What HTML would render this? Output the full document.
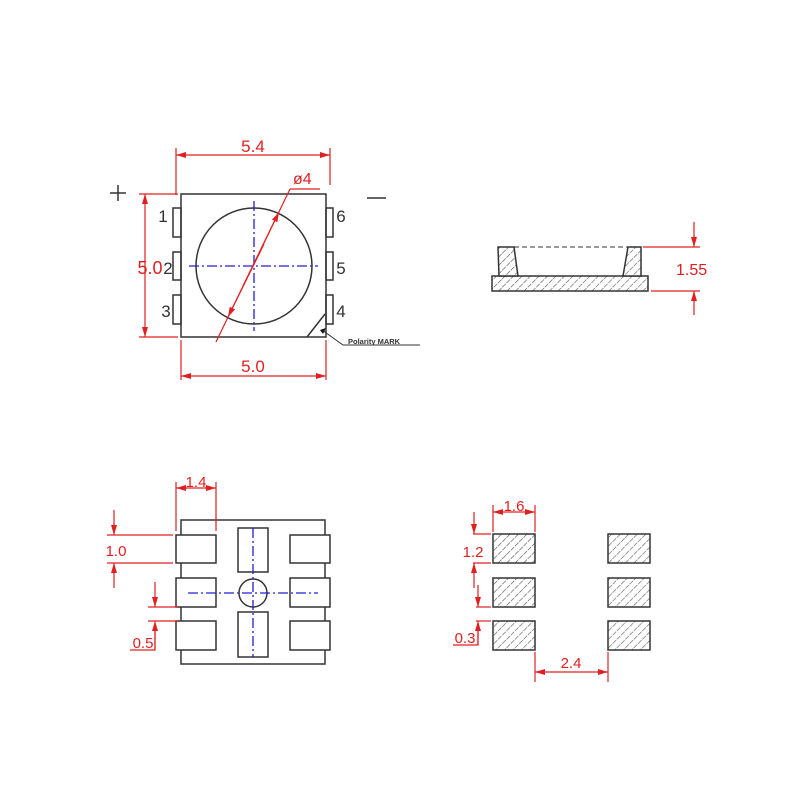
<!DOCTYPE html>
<html><head><meta charset="utf-8"><style>
html,body{margin:0;padding:0;background:#fff;}
svg{display:block}
text{font-family:"Liberation Sans",sans-serif;}
</style></head><body>
<svg width="800" height="800" viewBox="0 0 800 800" xmlns="http://www.w3.org/2000/svg">
<defs>
<pattern id="h" width="6" height="6" patternUnits="userSpaceOnUse" patternTransform="rotate(45)">
<rect width="6" height="6" fill="#fff"/><line x1="0" y1="0" x2="0" y2="6" stroke="#555" stroke-width="1.2" stroke-dasharray="4 1"/>
</pattern>
<marker id="a" markerWidth="10" markerHeight="6" refX="10" refY="3" orient="auto" markerUnits="userSpaceOnUse"><path d="M0,0 L10,3 L0,6 z" fill="#e02020"/></marker>
</defs>
<g fill="none" stroke="#333" stroke-width="1.5">
<rect x="181" y="194" width="145" height="143"/>
<rect x="173" y="208" width="8" height="29"/><rect x="173" y="252" width="8" height="28"/><rect x="173" y="295" width="8" height="29"/>
<rect x="326" y="208" width="7" height="29"/><rect x="326" y="252" width="7" height="28"/><rect x="326" y="295" width="7" height="29"/>
<circle cx="254" cy="266" r="58"/>
<line x1="307" y1="337" x2="325" y2="314"/>
<polyline points="322,330 343,345 420,345" stroke-width="1"/>
<rect x="181" y="520" width="144" height="144"/>
<rect x="176" y="535" width="40" height="28" fill="#fff"/><rect x="176" y="578" width="40" height="29" fill="#fff"/><rect x="176" y="621" width="40" height="29" fill="#fff"/>
<rect x="290" y="535" width="40" height="28" fill="#fff"/><rect x="290" y="578" width="40" height="29" fill="#fff"/><rect x="290" y="621" width="40" height="29" fill="#fff"/>
<rect x="238" y="528" width="30" height="44"/><rect x="238" y="612" width="30" height="45"/>
<circle cx="253" cy="593" r="14"/>
</g>
<path d="M320,330 l6,-2 l-3,6z" fill="#111"/>
<g stroke="#333" stroke-width="1.5">
<rect x="492" y="276" width="156" height="15" fill="url(#h)"/>
<polygon points="498,247 514,247 518,276 499,276" fill="url(#h)"/>
<polygon points="628,247 641,247 641,276 623,276" fill="url(#h)"/>
<line x1="514" y1="247" x2="628" y2="247" stroke-dasharray="5 3" stroke-width="1"/>
<rect x="493" y="534" width="42" height="29" fill="url(#h)"/><rect x="493" y="578" width="42" height="29" fill="url(#h)"/><rect x="493" y="621" width="42" height="29" fill="url(#h)"/>
<rect x="608" y="534" width="42" height="29" fill="url(#h)"/><rect x="608" y="578" width="42" height="29" fill="url(#h)"/><rect x="608" y="621" width="42" height="29" fill="url(#h)"/>
</g>
<g stroke="#2020d0" stroke-width="1.3" stroke-dasharray="10 3 2 3">
<line x1="189" y1="266" x2="318" y2="266"/><line x1="254" y1="201" x2="254" y2="331"/>
<line x1="188" y1="593" x2="318" y2="593"/><line x1="253" y1="528" x2="253" y2="657"/>
</g>
<g stroke="#e02020" stroke-width="1.2" fill="none">
<line x1="176" y1="148" x2="176" y2="195"/><line x1="330" y1="148" x2="330" y2="185"/>
<line x1="186" y1="155" x2="176" y2="155" marker-end="url(#a)"/><line x1="186" y1="155" x2="330" y2="155" marker-end="url(#a)"/>
<line x1="139" y1="194" x2="178" y2="194"/><line x1="139" y1="337" x2="178" y2="337"/>
<line x1="145" y1="260" x2="145" y2="194" marker-end="url(#a)"/><line x1="145" y1="260" x2="145" y2="337" marker-end="url(#a)"/>
<line x1="181" y1="340" x2="181" y2="380"/><line x1="326" y1="340" x2="326" y2="380"/>
<line x1="250" y1="376" x2="181" y2="376" marker-end="url(#a)"/><line x1="250" y1="376" x2="326" y2="376" marker-end="url(#a)"/>
<line x1="216" y1="342" x2="290" y2="189"/><line x1="290" y1="189" x2="320" y2="189"/>
<path d="M243,286 L279,212" marker-end="url(#a)"/><path d="M264,244 L228,317" marker-end="url(#a)"/>
<line x1="643" y1="247" x2="700" y2="247"/><line x1="651" y1="291" x2="700" y2="291"/>
<line x1="694" y1="222" x2="694" y2="247" marker-end="url(#a)"/><line x1="694" y1="315" x2="694" y2="291" marker-end="url(#a)"/>
<line x1="176" y1="482" x2="176" y2="531"/><line x1="216" y1="482" x2="216" y2="531"/>
<line x1="196" y1="488" x2="176" y2="488" marker-end="url(#a)"/><line x1="196" y1="488" x2="216" y2="488" marker-end="url(#a)"/>
<line x1="107" y1="535" x2="173" y2="535"/><line x1="107" y1="563" x2="173" y2="563"/>
<line x1="114" y1="510" x2="114" y2="535" marker-end="url(#a)"/><line x1="114" y1="588" x2="114" y2="563" marker-end="url(#a)"/>
<line x1="148" y1="607" x2="178" y2="607"/><line x1="148" y1="621" x2="178" y2="621"/>
<line x1="155" y1="582" x2="155" y2="607" marker-end="url(#a)"/><line x1="155" y1="650" x2="155" y2="621" marker-end="url(#a)"/>
<polyline points="130,650 155,650 155,630"/>
<line x1="493" y1="505" x2="493" y2="532"/><line x1="535" y1="505" x2="535" y2="532"/>
<line x1="514" y1="512" x2="493" y2="512" marker-end="url(#a)"/><line x1="514" y1="512" x2="535" y2="512" marker-end="url(#a)"/>
<line x1="473" y1="534" x2="491" y2="534"/><line x1="473" y1="563" x2="491" y2="563"/>
<line x1="474" y1="512" x2="474" y2="534" marker-end="url(#a)"/><line x1="474" y1="588" x2="474" y2="563" marker-end="url(#a)"/>
<line x1="476" y1="607" x2="491" y2="607"/><line x1="476" y1="621" x2="491" y2="621"/>
<line x1="478" y1="585" x2="478" y2="607" marker-end="url(#a)"/><line x1="478" y1="645" x2="478" y2="621" marker-end="url(#a)"/>
<polyline points="453,645 478,645 478,630"/>
<line x1="535" y1="652" x2="535" y2="682"/><line x1="608" y1="652" x2="608" y2="682"/>
<line x1="571" y1="672" x2="535" y2="672" marker-end="url(#a)"/><line x1="571" y1="672" x2="608" y2="672" marker-end="url(#a)"/>
</g>
<g fill="#e02020" font-size="17">
<text x="253" y="152" text-anchor="middle">5.4</text>
<text x="293" y="184" font-size="16">ø4</text>
<text x="150" y="274" text-anchor="middle" font-size="18">5.0</text>
<text x="253" y="372" text-anchor="middle">5.0</text>
<text x="676" y="275" font-size="16">1.55</text>
<text x="196" y="487" text-anchor="middle" font-size="15">1.4</text>
<text x="116" y="556" text-anchor="middle" font-size="15">1.0</text>
<text x="143" y="648" text-anchor="middle" font-size="15">0.5</text>
<text x="514" y="511" text-anchor="middle" font-size="15">1.6</text>
<text x="473" y="557" text-anchor="middle" font-size="15">1.2</text>
<text x="465" y="643" text-anchor="middle" font-size="15">0.3</text>
<text x="571" y="668" text-anchor="middle" font-size="15">2.4</text>
</g>
<g fill="#333" font-size="17">
<text x="163" y="222" text-anchor="middle">1</text>
<text x="168" y="274" text-anchor="middle">2</text>
<text x="166" y="317" text-anchor="middle">3</text>
<text x="341" y="222" text-anchor="middle">6</text>
<text x="341" y="274" text-anchor="middle">5</text>
<text x="341" y="317" text-anchor="middle">4</text>
<text x="348" y="344" font-size="7.5" font-weight="bold">Polarity MARK</text>
</g>
<g stroke="#333" stroke-width="1.5">
<line x1="110" y1="193" x2="126" y2="193"/><line x1="118" y1="185" x2="118" y2="201"/>
<line x1="367" y1="198" x2="386" y2="198"/>
</g>
</svg>
</body></html>
